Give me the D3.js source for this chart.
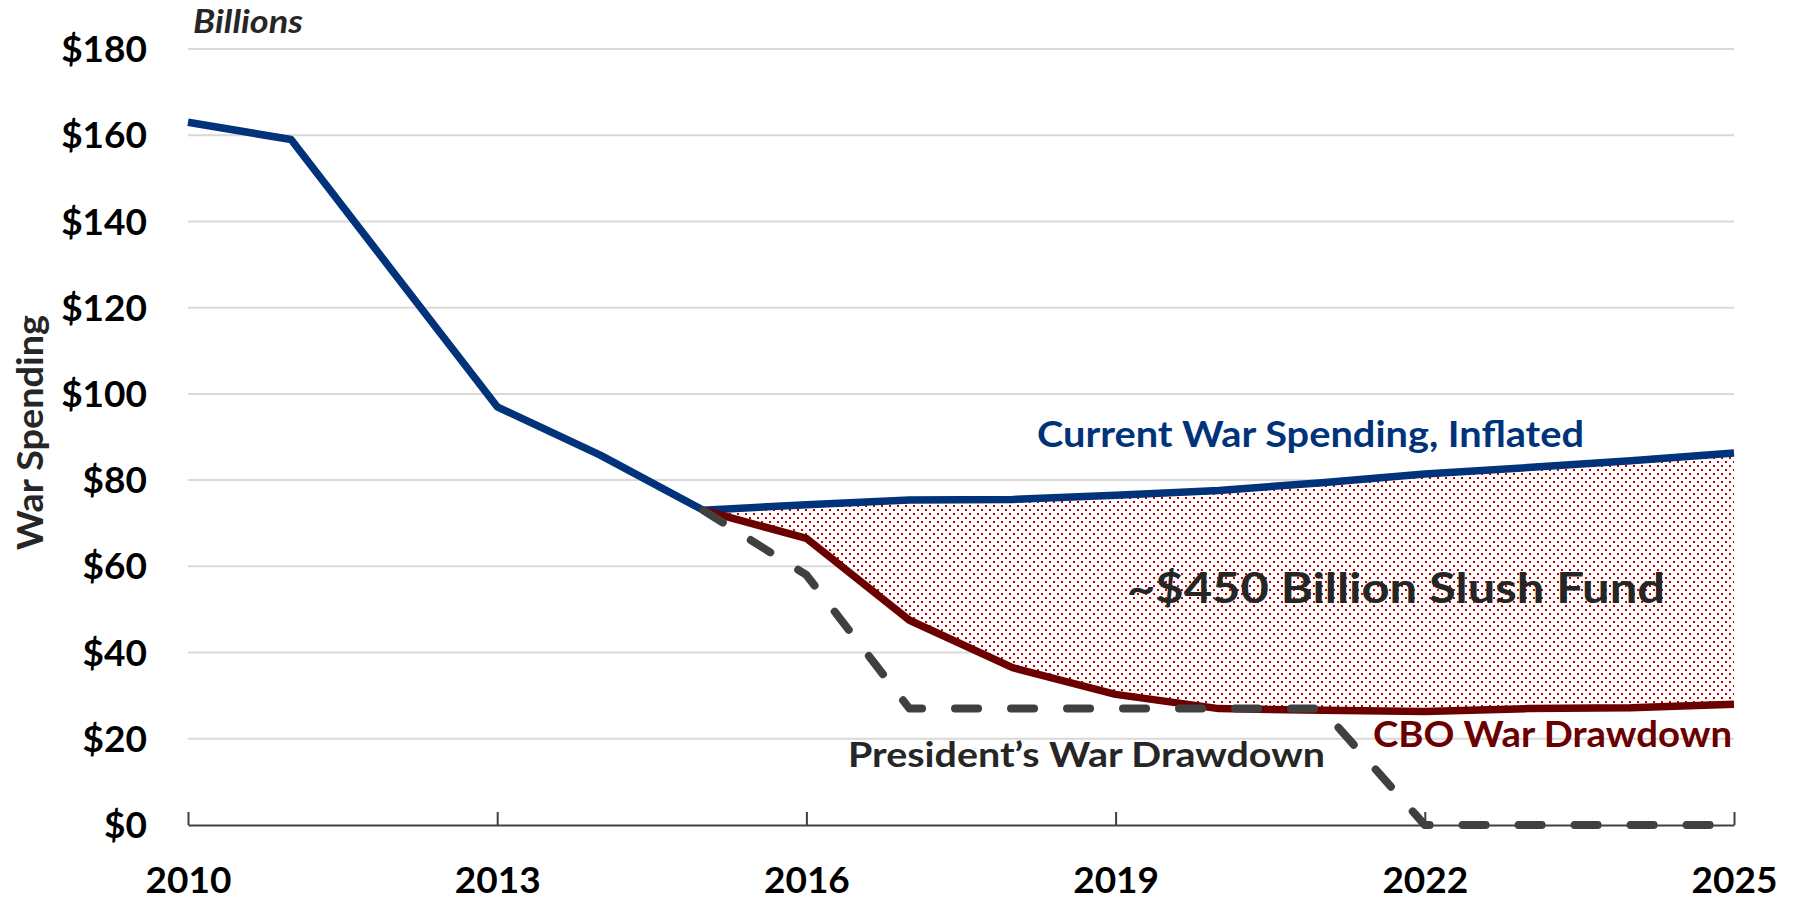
<!DOCTYPE html>
<html>
<head>
<meta charset="utf-8">
<script src="https://cdn.jsdelivr.net/npm/d3@7"></script>
<style>
  html, body { margin: 0; padding: 0; background: #fff; }
  svg { display: block; font-family: Lato, "Open Sans", sans-serif; }
</style>
</head>
<body>
<svg id="chart" width="1793" height="900"></svg>
<script>
// ---- data ($ billions) ----
const years = [2010, 2011, 2012, 2013, 2014, 2015, 2016, 2017, 2018, 2019, 2020, 2021, 2022, 2023, 2024, 2025];
const currentSpending = [163, 159, 128, 97, 85.8, 73, 74.3, 75.4, 75.5, 76.5, 77.6, 79.4, 81.4, 82.9, 84.5, 86.3];
const drawdownYears = [2015, 2016, 2017, 2018, 2019, 2020, 2021, 2022, 2023, 2024, 2025];
const cboDrawdown = [73, 66.5, 47.5, 36.5, 30.3, 27, 26.6, 26.3, 27, 27.2, 28];
const presidentDrawdown = [73, 58, 27, 27, 27, 27, 27, 0, 0, 0, 0];
const yTicks = [0, 20, 40, 60, 80, 100, 120, 140, 160, 180];
const xTicks = [2010, 2013, 2016, 2019, 2022, 2025];

(function () {
const svg = d3.select("#chart");
const plotLeft = 188, plotRight = 1734, plotTop = 49, plotBottom = 825;

const x = d3.scaleLinear().domain([2010, 2025]).range([plotLeft, plotRight]);
const y = d3.scaleLinear().domain([0, 180]).range([plotBottom, plotTop]);

// dotted pattern for the gap area
const defs = svg.append("defs");
const pat = defs.append("pattern")
  .attr("id", "dots").attr("patternUnits", "userSpaceOnUse")
  .attr("width", 8).attr("height", 8);
pat.append("rect").attr("width", 8).attr("height", 8).attr("fill", "#fff");
pat.append("rect").attr("x", 1).attr("y", 1).attr("width", 2).attr("height", 2).attr("fill", "#c00000");
pat.append("rect").attr("x", 5).attr("y", 5).attr("width", 2).attr("height", 2).attr("fill", "#c00000");

// gridlines
svg.append("g").selectAll("line")
  .data(yTicks.filter(d => d > 0))
  .join("line")
  .attr("x1", plotLeft).attr("x2", plotRight)
  .attr("y1", d => y(d)).attr("y2", d => y(d))
  .attr("stroke", "#d9d9d9").attr("stroke-width", 2);

// y axis labels
const yAxis = svg.append("g")
  .attr("transform", `translate(${plotLeft},0)`)
  .call(d3.axisLeft(y).tickValues(yTicks).tickSize(0).tickPadding(41).tickFormat(d => "$" + d));
yAxis.select(".domain").remove();
yAxis.selectAll("text")
  .attr("font-family", "Lato, sans-serif")
  .attr("font-size", 37).attr("font-weight", 700).attr("fill", "#000")
  .attr("dy", "0.34em");

// area between current spending and CBO drawdown
const gap = drawdownYears.map((yr, i) => ({
  yr,
  hi: currentSpending[years.indexOf(yr)],
  lo: cboDrawdown[i]
}));
svg.append("path")
  .datum(gap)
  .attr("d", d3.area().x(d => x(d.yr)).y0(d => y(d.lo)).y1(d => y(d.hi)))
  .attr("fill", "url(#dots)");

// x axis
const xAxis = svg.append("g")
  .attr("transform", `translate(0,${plotBottom})`)
  .call(d3.axisBottom(x).tickValues(xTicks).tickSizeInner(-13).tickSizeOuter(0).tickPadding(44).tickFormat(d3.format("d")));
xAxis.select(".domain").attr("stroke", "#404040").attr("stroke-width", 2);
xAxis.selectAll(".tick line").attr("stroke", "#404040").attr("stroke-width", 2);
xAxis.selectAll("text")
  .attr("font-family", "Lato, sans-serif")
  .attr("font-size", 37).attr("font-weight", 700).attr("fill", "#000")
  .attr("dy", "0.71em").attr("y", 42);

const line = d3.line().x(d => x(d[0])).y(d => y(d[1]));

// current war spending
svg.append("path")
  .datum(years.map((yr, i) => [yr, currentSpending[i]]))
  .attr("d", line)
  .attr("fill", "none").attr("stroke", "#00337a").attr("stroke-width", 7.5)
  .attr("stroke-linejoin", "round");

// CBO drawdown
svg.append("path")
  .datum(drawdownYears.map((yr, i) => [yr, cboDrawdown[i]]))
  .attr("d", line)
  .attr("fill", "none").attr("stroke", "#6b0000").attr("stroke-width", 7.5)
  .attr("stroke-linejoin", "round");

// President's drawdown (dashed)
svg.append("path")
  .datum(drawdownYears.map((yr, i) => [yr, presidentDrawdown[i]]))
  .attr("d", line)
  .attr("fill", "none").attr("stroke", "#404040").attr("stroke-width", 8)
  .attr("stroke-linejoin", "round").attr("stroke-linecap", "round")
  .attr("stroke-dasharray", "23,33");

// texts
function label(txt, xx, yy, opts) {
  const t = svg.append("text")
    .attr("x", xx).attr("y", yy)
    .attr("font-family", "Lato, sans-serif")
    .attr("font-weight", 700)
    .attr("font-size", opts.size)
    .attr("fill", opts.fill)
    .text(txt);
  if (opts.italic) t.attr("font-style", "italic");
  if (opts.len) t.attr("textLength", opts.len).attr("lengthAdjust", "spacingAndGlyphs");
  if (opts.rotate) t.attr("transform", `rotate(-90,${xx},${yy})`);
  return t;
}

label("Billions", 193, 33, { size: 32, fill: "#262626", italic: true, len: 110 });
label("War Spending", 43, 550, { size: 36, fill: "#262626", rotate: true, len: 235 });
label("Current War Spending, Inflated", 1037, 447, { size: 37, fill: "#00337a", len: 547 });
label("~$450 Billion Slush Fund", 1127, 603, { size: 42, fill: "#262626", len: 538 });
label("President\u2019s War Drawdown", 848, 767, { size: 34, fill: "#262626", len: 477 });
label("CBO War Drawdown", 1373, 747, { size: 37, fill: "#6b0000", len: 359 });
})();
</script>
</body>
</html>
